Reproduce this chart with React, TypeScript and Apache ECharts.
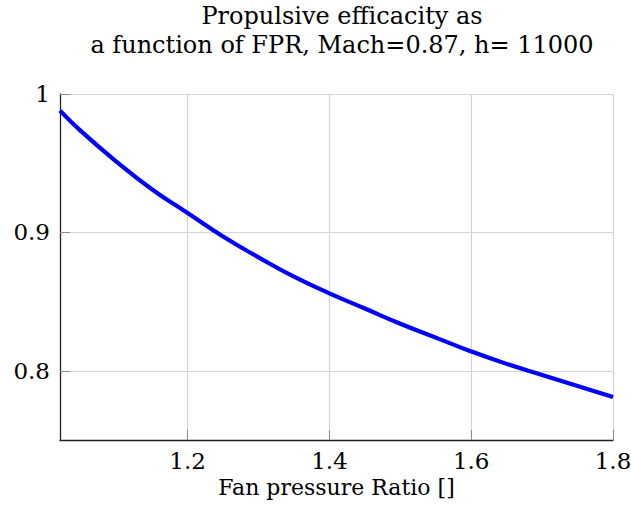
import React, { useEffect, useRef } from "react";
import * as echarts from "echarts";

const titleLines = ["Propulsive efficacity as", "a function of FPR, Mach=0.87, h= 11000"];
const xAxisName = "Fan pressure Ratio []";
const fpr = [1.02, 1.05, 1.1, 1.15, 1.2, 1.25, 1.3, 1.35, 1.4, 1.45, 1.5, 1.55, 1.6, 1.65, 1.7, 1.75, 1.8];
const efficacity = [0.988, 0.973, 0.951, 0.931, 0.914, 0.897, 0.882, 0.868, 0.856, 0.845, 0.834, 0.824, 0.814, 0.805, 0.797, 0.789, 0.781];
const xTicks = [1.2, 1.4, 1.6, 1.8];
const yTicks = [0.8, 0.9, 1];
const xRange = [1.02, 1.8];
const yRange = [0.75, 1];

const FONT = "DejaVu Serif";

export default function App() {
  const ref = useRef<HTMLDivElement>(null);
  useEffect(() => {
    if (!ref.current) return;
    const chart = echarts.init(ref.current, null, { renderer: "svg" });
    const axisCommon = {
      axisLine: { show: true, onZero: false, lineStyle: { color: "#222", width: 1.3 } },
      axisTick: { show: true, inside: true, length: 10, lineStyle: { color: "#8c8c8c", width: 1 } },
      splitLine: { show: true, lineStyle: { color: "#d4d4d4", width: 1.2 } },
    };
    chart.setOption({
      animation: false,
      backgroundColor: "#fff",
      title: {
        text: titleLines.join("\n"),
        left: 337,
        top: -4,
        textAlign: "center",
        textStyle: { fontFamily: FONT, fontSize: 24, fontWeight: "normal", color: "#000", lineHeight: 29 },
      },
      grid: { left: 60, right: 18, top: 94, bottom: 84, containLabel: false, outerBoundsMode: "none" },
      xAxis: {
        type: "value",
        min: xRange[0],
        max: xRange[1],
        name: xAxisName,
        nameLocation: "middle",
        nameGap: 36,
        nameTextStyle: { fontFamily: FONT, fontSize: 22, color: "#000" },
        ...axisCommon,
        axisTick: { ...axisCommon.axisTick, customValues: xTicks },
        axisLabel: {
          customValues: xTicks,
          fontFamily: FONT,
          fontSize: 23,
          color: "#000",
          margin: 9,
          formatter: (v: number) => String(Number(v.toFixed(2))),
        },
      },
      yAxis: {
        type: "value",
        min: yRange[0],
        max: yRange[1],
        ...axisCommon,
        axisTick: { ...axisCommon.axisTick, customValues: yTicks },
        axisLabel: {
          customValues: yTicks,
          fontFamily: FONT,
          fontSize: 23,
          color: "#000",
          margin: 10,
          formatter: (v: number) => String(Number(v.toFixed(2))),
        },
      },
      series: [
        {
          type: "line",
          data: fpr.map((x, i) => [x, efficacity[i]]),
          smooth: true,
          showSymbol: false,
          lineStyle: { color: "#0000ff", width: 4.2 },
          z: 5,
        },
      ],
    });
    return () => chart.dispose();
  }, []);
  return <div ref={ref} style={{ position: "fixed", left: 0, top: 0, width: 631, height: 524 }} />;
}
